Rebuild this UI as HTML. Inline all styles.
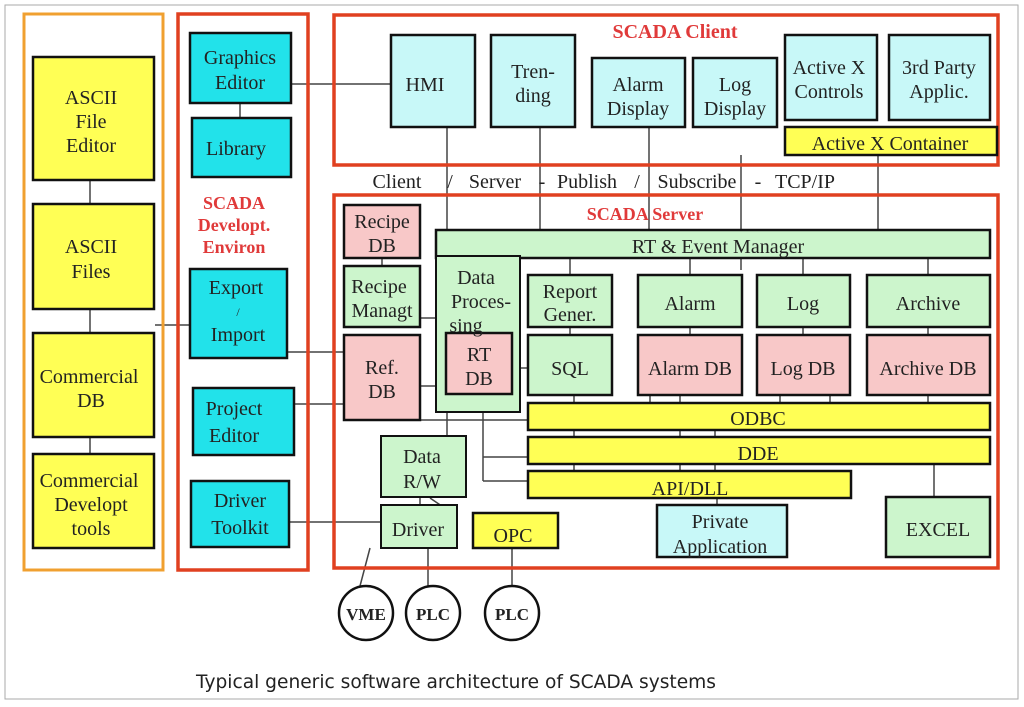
<!DOCTYPE html>
<html><head><meta charset="utf-8"><style>
html,body{margin:0;padding:0;background:#fff;}
svg{display:block;}
text{font-family:"Liberation Serif",serif;font-size:20px;fill:#222;text-anchor:middle;}
.r{fill:#e03a3a;font-weight:bold;font-size:18px;}
.t{fill:#e03a3a;font-weight:bold;font-size:20px;}
.b{stroke:#111;stroke-width:2.5;}
.l{stroke:#444;stroke-width:1.5;fill:none;}
</style></head><body>
<svg width="1024" height="707" viewBox="0 0 1024 707">
<rect x="5" y="5" width="1013" height="694" fill="#fff" stroke="#aaa" stroke-width="1"/>
<g class="l">
<line x1="90" y1="180" x2="90" y2="204"/><line x1="90" y1="309" x2="90" y2="333"/><line x1="90" y1="437" x2="90" y2="454"/>
<line x1="155" y1="325" x2="190" y2="325"/>
<line x1="240" y1="103" x2="240" y2="118"/>
<line x1="291" y1="84" x2="391" y2="84"/>
<line x1="447" y1="127" x2="447" y2="230"/><line x1="540" y1="127" x2="540" y2="230"/>
<line x1="649" y1="127" x2="649" y2="230"/><line x1="741" y1="155" x2="741" y2="270"/>
<line x1="878" y1="155" x2="878" y2="230"/>
<line x1="382" y1="258" x2="382" y2="266"/>
<line x1="420" y1="318" x2="436" y2="318"/>
<line x1="287" y1="352" x2="344" y2="352"/><line x1="294" y1="404" x2="344" y2="404"/>
<line x1="420" y1="386" x2="446" y2="386"/>
<line x1="500" y1="368" x2="528" y2="368"/>
<line x1="570" y1="258" x2="570" y2="275"/><line x1="570" y1="327" x2="570" y2="335"/>
<line x1="690" y1="258" x2="690" y2="275"/><line x1="803" y1="258" x2="803" y2="275"/><line x1="928" y1="258" x2="928" y2="275"/>
<line x1="690" y1="327" x2="690" y2="335"/><line x1="803" y1="327" x2="803" y2="335"/><line x1="928" y1="327" x2="928" y2="335"/>
<line x1="574" y1="395" x2="574" y2="403"/><line x1="650" y1="395" x2="650" y2="403"/><line x1="680" y1="395" x2="680" y2="403"/><line x1="780" y1="395" x2="780" y2="403"/><line x1="830" y1="395" x2="830" y2="403"/><line x1="928" y1="395" x2="928" y2="403"/>
<line x1="574" y1="430" x2="574" y2="437"/><line x1="680" y1="430" x2="680" y2="437"/><line x1="715" y1="430" x2="715" y2="437"/>
<line x1="574" y1="464" x2="574" y2="471"/><line x1="680" y1="464" x2="680" y2="471"/><line x1="715" y1="464" x2="715" y2="471"/>
<line x1="420" y1="420" x2="528" y2="420"/>
<line x1="483" y1="394" x2="483" y2="481"/><line x1="483" y1="457" x2="528" y2="457"/><line x1="483" y1="481" x2="528" y2="481"/>
<line x1="447" y1="412" x2="447" y2="436"/>
<line x1="420" y1="497" x2="420" y2="505"/>
<line x1="430" y1="498" x2="452" y2="513"/>
<line x1="289" y1="522" x2="381" y2="522"/>
<line x1="717" y1="498" x2="717" y2="505"/>
<line x1="934" y1="464" x2="934" y2="497"/>
<line x1="370" y1="548" x2="360" y2="586"/>
<line x1="428" y1="548" x2="428" y2="586"/>
<line x1="512" y1="548" x2="512" y2="586"/>
</g>
<rect x="24" y="14" width="139" height="556" fill="none" stroke="#f0a030" stroke-width="3"/>
<rect x="178" y="14" width="130" height="556" fill="none" stroke="#e04020" stroke-width="3.5"/>
<rect x="334" y="15" width="664" height="150" fill="none" stroke="#e04020" stroke-width="3.5"/>
<rect x="334" y="195" width="664" height="373" fill="none" stroke="#e04020" stroke-width="3.5"/>
<g class="b">
<rect x="33" y="57" width="121" height="123" fill="#ffff55"/>
<rect x="33" y="204" width="121" height="105" fill="#ffff55"/>
<rect x="33" y="333" width="121" height="104" fill="#ffff55"/>
<rect x="33" y="454" width="121" height="94" fill="#ffff55"/>
<rect x="190" y="33" width="101" height="70" fill="#22e2ea"/>
<rect x="192" y="118" width="99" height="59" fill="#22e2ea"/>
<rect x="190" y="269" width="97" height="89" fill="#22e2ea"/>
<rect x="193" y="388" width="101" height="67" fill="#22e2ea"/>
<rect x="191" y="481" width="98" height="66" fill="#22e2ea"/>
<rect x="391" y="35" width="84" height="92" fill="#c8f8f8"/>
<rect x="491" y="35" width="84" height="92" fill="#c8f8f8"/>
<rect x="592" y="58" width="93" height="69" fill="#c8f8f8"/>
<rect x="693" y="58" width="84" height="69" fill="#c8f8f8"/>
<rect x="785" y="35" width="92" height="85" fill="#c8f8f8"/>
<rect x="889" y="35" width="101" height="85" fill="#c8f8f8"/>
<rect x="785" y="127" width="212" height="28" fill="#ffff55"/>
<rect x="344" y="205" width="76" height="53" fill="#f8c8c8"/>
<rect x="344" y="266" width="76" height="61" fill="#ccf5cc"/>
<rect x="344" y="335" width="76" height="85" fill="#f8c8c8"/>
<rect x="436" y="230" width="554" height="28" fill="#ccf5cc"/>
<rect x="436" y="256" width="84" height="156" fill="#ccf5cc" stroke-width="2"/>
<rect x="446" y="333" width="66" height="61" fill="#f8c8c8"/>
<rect x="528" y="275" width="84" height="52" fill="#ccf5cc"/>
<rect x="528" y="335" width="84" height="60" fill="#ccf5cc"/>
<rect x="638" y="275" width="104" height="52" fill="#ccf5cc"/>
<rect x="757" y="275" width="93" height="52" fill="#ccf5cc"/>
<rect x="867" y="275" width="123" height="52" fill="#ccf5cc"/>
<rect x="638" y="335" width="104" height="60" fill="#f8c8c8"/>
<rect x="757" y="335" width="93" height="60" fill="#f8c8c8"/>
<rect x="867" y="335" width="123" height="60" fill="#f8c8c8"/>
<rect x="528" y="403" width="462" height="27" fill="#ffff55"/>
<rect x="528" y="437" width="462" height="27" fill="#ffff55"/>
<rect x="528" y="471" width="323" height="27" fill="#ffff55"/>
<rect x="381" y="436" width="85" height="61" fill="#ccf5cc" stroke-width="2"/>
<rect x="381" y="505" width="76" height="43" fill="#ccf5cc" stroke-width="2"/>
<rect x="473" y="513" width="85" height="35" fill="#ffff55"/>
<rect x="657" y="505" width="130" height="52" fill="#c8f8f8"/>
<rect x="886" y="497" width="104" height="60" fill="#ccf5cc"/>
<circle cx="366" cy="613" r="27" fill="#fff"/>
<circle cx="433" cy="613" r="27" fill="#fff"/>
<circle cx="512" cy="613" r="27" fill="#fff"/>
</g>
<text x="91" y="104">ASCII</text><text x="91" y="128">File</text><text x="91" y="152">Editor</text>
<text x="91" y="253">ASCII</text><text x="91" y="278">Files</text>
<text x="89" y="383">Commercial</text><text x="91" y="407">DB</text>
<text x="89" y="487">Commercial</text><text x="91" y="511">Developt</text><text x="91" y="535">tools</text>
<text x="240" y="64">Graphics</text><text x="240" y="89">Editor</text>
<text x="236" y="155">Library</text>
<text class="r" x="234" y="209">SCADA</text><text class="r" x="234" y="231">Developt.</text><text class="r" x="234" y="253">Environ</text>
<text x="236" y="294">Export</text><text x="238" y="316" style="font-size:12px">/</text><text x="238" y="341">Import</text>
<text x="234" y="415">Project</text><text x="234" y="442">Editor</text>
<text x="240" y="507">Driver</text><text x="240" y="534">Toolkit</text>
<text class="t" x="675" y="38">SCADA Client</text>
<text x="425" y="91">HMI</text>
<text x="533" y="78">Tren-</text><text x="533" y="102">ding</text>
<text x="638" y="91">Alarm</text><text x="638" y="115">Display</text>
<text x="735" y="91">Log</text><text x="735" y="115">Display</text>
<text x="829" y="74">Active X</text><text x="829" y="98">Controls</text>
<text x="939" y="74">3rd Party</text><text x="939" y="98">Applic.</text>
<text x="890" y="150">Active X Container</text>
<text x="397" y="188">Client</text><text x="450" y="188">/</text><text x="495" y="188">Server</text><text x="542" y="188">-</text><text x="587" y="188">Publish</text><text x="637" y="188">/</text><text x="697" y="188">Subscribe</text><text x="758" y="188">-</text><text x="805" y="188">TCP/IP</text>
<text class="r" x="645" y="220">SCADA Server</text>
<text x="382" y="228">Recipe</text><text x="382" y="252">DB</text>
<text x="379" y="293">Recipe</text><text x="382" y="317">Managt</text>
<text x="382" y="374">Ref.</text><text x="382" y="398">DB</text>
<text x="718" y="253">RT &amp; Event Manager</text>
<text x="476" y="284">Data</text><text x="481" y="308">Proces-</text><text x="466" y="332">sing</text>
<text x="479" y="361">RT</text><text x="479" y="385">DB</text>
<text x="570" y="298">Report</text><text x="570" y="321">Gener.</text>
<text x="570" y="375">SQL</text>
<text x="690" y="310">Alarm</text><text x="803" y="310">Log</text><text x="928" y="310">Archive</text>
<text x="690" y="375">Alarm DB</text><text x="803" y="375">Log DB</text><text x="928" y="375">Archive DB</text>
<text x="758" y="425">ODBC</text><text x="758" y="460">DDE</text><text x="690" y="495">API/DLL</text>
<text x="422" y="463">Data</text><text x="422" y="488">R/W</text>
<text x="418" y="536">Driver</text><text x="513" y="542">OPC</text>
<text x="720" y="528">Private</text><text x="720" y="553">Application</text>
<text x="938" y="536">EXCEL</text>
<text x="366" y="620" style="font-weight:bold;font-size:17px">VME</text>
<text x="433" y="620" style="font-weight:bold;font-size:17px">PLC</text>
<text x="512" y="620" style="font-weight:bold;font-size:17px">PLC</text>
<text x="456" y="688" textLength="520" lengthAdjust="spacingAndGlyphs" style="font-family:'DejaVu Sans',sans-serif;font-size:19px;">Typical generic software architecture of SCADA systems</text>
</svg>
</body></html>
